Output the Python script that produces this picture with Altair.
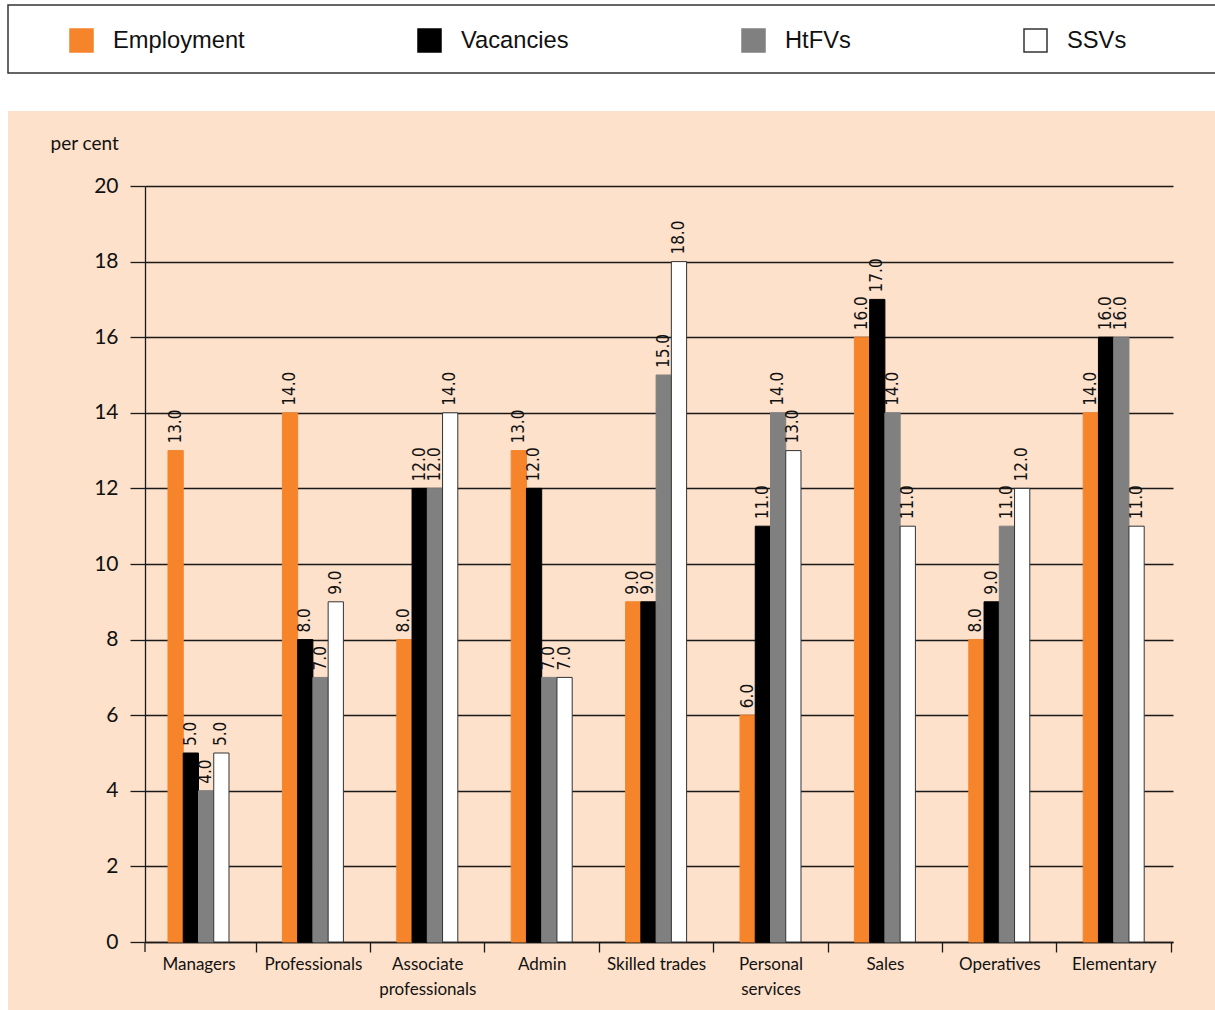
import altair as alt
import pandas as pd

# Occupational shares of employment and vacancies (per cent)
categories = [
    "Managers", "Professionals", "Associate professionals", "Admin",
    "Skilled trades", "Personal services", "Sales", "Operatives", "Elementary",
]
series = ["Employment", "Vacancies", "HtFVs", "SSVs"]
employment = [13.0, 14.0, 8.0, 13.0, 9.0, 6.0, 16.0, 8.0, 14.0]
vacancies = [5.0, 8.0, 12.0, 12.0, 9.0, 11.0, 17.0, 9.0, 16.0]
htfvs = [4.0, 7.0, 12.0, 7.0, 15.0, 14.0, 14.0, 11.0, 16.0]
ssvs = [5.0, 9.0, 14.0, 7.0, 18.0, 13.0, 11.0, 12.0, 11.0]
y_ticks = [0, 2, 4, 6, 8, 10, 12, 14, 16, 18, 20]

fills = ["#F5842B", "#000000", "#808080", "#FFFFFF"]
strokes = ["#F5842B", "#000000", "#808080", "#333333"]
PEACH = "#FDE1CB"
INK = "#1a1a1a"
NARROW = "'Liberation Sans Narrow', 'Arial Narrow', 'DejaVu Sans Condensed', 'Liberation Sans', sans-serif"

rows = []
for name, vals in zip(series, [employment, vacancies, htfvs, ssvs]):
    for cat, v in zip(categories, vals):
        rows.append({"category": cat, "series": name, "value": v})
df = pd.DataFrame(rows)
one = pd.DataFrame({"k": [0]})

label_expr = (
    "datum.label == 'Associate professionals' ? ['Associate', 'professionals'] : "
    "datum.label == 'Personal services' ? ['Personal', 'services'] : datum.label"
)

# group bands: 61px of bars inside a ~114px step; ticks are pushed half a step
# to the right (midway between groups) while the labels stay centred
HALF_STEP = 57.2
x_enc = alt.X(
    "category:N", sort=categories,
    scale=alt.Scale(paddingInner=0.4668, paddingOuter=0.2264, align=0.444),
    axis=alt.Axis(
        title=None, labelAngle=0, tickOffset=HALF_STEP, labelOffset=-HALF_STEP,
        tickSize=10, tickWidth=1.3, tickColor=INK, domainColor=INK, domainWidth=1.3,
        grid=False, labelFont="Lato", labelFontSize=17, labelColor="#111",
        labelPadding=4, labelLineHeight=25, labelExpr=label_expr,
    ),
)
xoff_enc = alt.XOffset("series:N", sort=series, scale=alt.Scale(paddingInner=0, paddingOuter=0))
y_enc = alt.Y(
    "value:Q", scale=alt.Scale(domain=[0, 20], nice=False),
    axis=alt.Axis(
        values=y_ticks, grid=True, gridColor=INK, gridWidth=1.3,
        domainColor=INK, domainWidth=1.3, tickColor=INK, tickWidth=1.3, tickSize=15,
        labelFont="Lato", labelFontSize=21, labelColor="#111", labelPadding=12,
        title="per cent", titleAngle=0, titleX=-95, titleY=-43, titleAlign="left",
        titleBaseline="middle", titleFont="Lato", titleFontSize=19,
        titleFontWeight="normal", titleColor="#111",
    ),
)

legend = alt.Legend(
    title=None, orient="none", legendX=-76, legendY=-158, direction="horizontal",
    columns=4, columnPadding=170, symbolType="square", symbolSize=529,
    symbolStrokeWidth=1.5, labelFont="Liberation Sans", labelFontSize=23.7,
    labelOffset=19, labelColor="#111", padding=0,
)

# white band above the peach panel and a thin white margin at its left
top_band = alt.Chart(one).mark_rect(color="white").encode(
    x=alt.value(-145), x2=alt.value(1080), y=alt.value(-186), y2=alt.value(-75)
)
left_margin = alt.Chart(one).mark_rect(color="white").encode(
    x=alt.value(-145), x2=alt.value(-137), y=alt.value(-75), y2=alt.value(830)
)
# framed box holding the legend
legend_box = alt.Chart(one).mark_rect(fill="white", stroke="#333333", strokeWidth=1.5).encode(
    x=alt.value(-137), x2=alt.value(1080), y=alt.value(-181), y2=alt.value(-113)
)
# tick at the left end of the category axis
corner_tick = alt.Chart(one).mark_rule(color=INK, strokeWidth=1.3).encode(
    x=alt.value(0), y=alt.value(756), y2=alt.value(766)
)

bars = alt.Chart(df).mark_bar(strokeWidth=1).encode(
    x=x_enc,
    xOffset=xoff_enc,
    y=y_enc,
    fill=alt.Fill("series:N", sort=series, scale=alt.Scale(domain=series, range=fills), legend=legend),
    stroke=alt.Stroke("series:N", sort=series, scale=alt.Scale(domain=series, range=strokes), legend=legend),
)

labels = alt.Chart(df).mark_text(
    angle=270, align="left", baseline="middle", dx=7,
    font=NARROW, fontSize=17, color="#111",
).encode(
    x=alt.X("category:N", sort=categories),
    xOffset=alt.XOffset("series:N", sort=series),
    y=alt.Y("value:Q"),
    text=alt.Text("value:Q", format=".1f"),
)

chart = alt.layer(top_band, left_margin, legend_box, corner_tick, bars, labels).properties(
    width=1028, height=756,
    autosize=alt.AutoSizeParams(type="none"),
    padding={"left": 145, "top": 186, "right": 42, "bottom": 68},
    background=PEACH,
).configure_view(stroke=None)

chart.save("out.html", embed_options={"renderer": "svg", "actions": False})
